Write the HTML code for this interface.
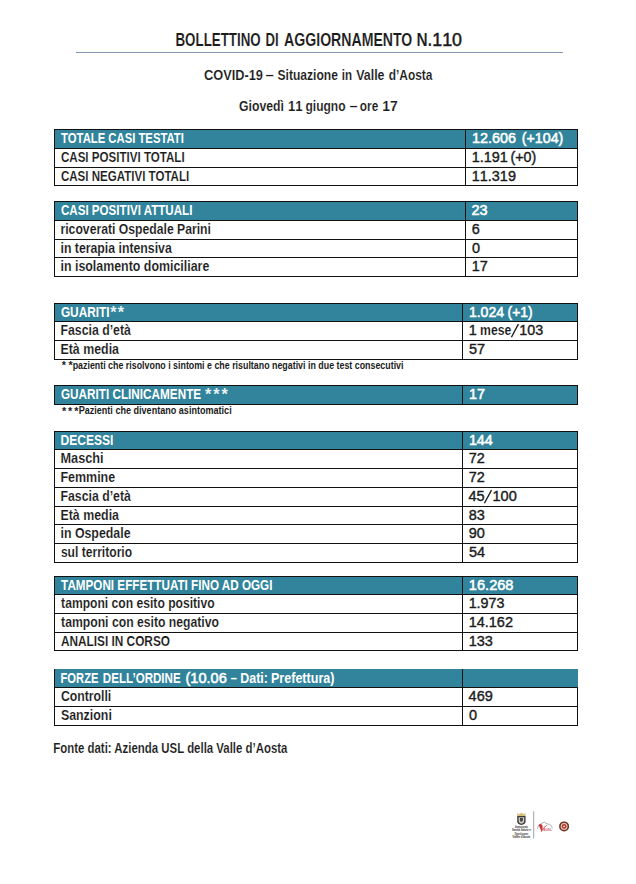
<!DOCTYPE html><html><head><meta charset="utf-8"><title>Bollettino</title><style>
html,body{margin:0;padding:0;background:#fff}
body{width:636px;height:884px;position:relative;overflow:hidden;font-family:"Liberation Sans",sans-serif;}
.t{position:absolute;white-space:pre;line-height:1;transform-origin:0 0;font-weight:700;display:block}
.b{position:absolute}
.hl{position:absolute;height:1px;background:#111}
.vl{position:absolute;width:1px;background:#111}
</style></head><body>
<div class="hl" style="left:76px;top:52px;width:487px;background:#8497b0"></div>
<div class="b" style="left:54px;top:129px;width:524px;height:19px;background:#31849b"></div>
<div class="hl" style="left:54px;top:129px;width:524px"></div>
<div class="hl" style="left:54px;top:148px;width:524px"></div>
<div class="hl" style="left:54px;top:167px;width:524px"></div>
<div class="hl" style="left:54px;top:185px;width:524px"></div>
<div class="vl" style="left:54px;top:129px;height:57px"></div>
<div class="vl" style="left:465px;top:129px;height:57px"></div>
<div class="vl" style="left:577px;top:129px;height:57px"></div>
<div class="b" style="left:54px;top:201px;width:524px;height:19px;background:#31849b"></div>
<div class="hl" style="left:54px;top:201px;width:524px"></div>
<div class="hl" style="left:54px;top:220px;width:524px"></div>
<div class="hl" style="left:54px;top:239px;width:524px"></div>
<div class="hl" style="left:54px;top:257px;width:524px"></div>
<div class="hl" style="left:54px;top:276px;width:524px"></div>
<div class="vl" style="left:54px;top:201px;height:76px"></div>
<div class="vl" style="left:465px;top:201px;height:76px"></div>
<div class="vl" style="left:577px;top:201px;height:76px"></div>
<div class="b" style="left:54px;top:303px;width:524px;height:18px;background:#31849b"></div>
<div class="hl" style="left:54px;top:303px;width:524px"></div>
<div class="hl" style="left:54px;top:321px;width:524px"></div>
<div class="hl" style="left:54px;top:340px;width:524px"></div>
<div class="hl" style="left:54px;top:359px;width:524px"></div>
<div class="vl" style="left:54px;top:303px;height:57px"></div>
<div class="vl" style="left:462px;top:303px;height:57px"></div>
<div class="vl" style="left:577px;top:303px;height:57px"></div>
<div class="b" style="left:54px;top:385px;width:524px;height:19px;background:#31849b"></div>
<div class="hl" style="left:54px;top:385px;width:524px"></div>
<div class="hl" style="left:54px;top:404px;width:524px"></div>
<div class="vl" style="left:54px;top:385px;height:20px"></div>
<div class="vl" style="left:462px;top:385px;height:20px"></div>
<div class="vl" style="left:577px;top:385px;height:20px"></div>
<div class="b" style="left:54px;top:431px;width:524px;height:18px;background:#31849b"></div>
<div class="hl" style="left:54px;top:431px;width:524px"></div>
<div class="hl" style="left:54px;top:449px;width:524px"></div>
<div class="hl" style="left:54px;top:468px;width:524px"></div>
<div class="hl" style="left:54px;top:487px;width:524px"></div>
<div class="hl" style="left:54px;top:506px;width:524px"></div>
<div class="hl" style="left:54px;top:524px;width:524px"></div>
<div class="hl" style="left:54px;top:543px;width:524px"></div>
<div class="hl" style="left:54px;top:562px;width:524px"></div>
<div class="vl" style="left:54px;top:431px;height:132px"></div>
<div class="vl" style="left:462px;top:431px;height:132px"></div>
<div class="vl" style="left:577px;top:431px;height:132px"></div>
<div class="b" style="left:54px;top:576px;width:524px;height:18px;background:#31849b"></div>
<div class="hl" style="left:54px;top:576px;width:524px"></div>
<div class="hl" style="left:54px;top:594px;width:524px"></div>
<div class="hl" style="left:54px;top:613px;width:524px"></div>
<div class="hl" style="left:54px;top:632px;width:524px"></div>
<div class="hl" style="left:54px;top:650px;width:524px"></div>
<div class="vl" style="left:54px;top:576px;height:75px"></div>
<div class="vl" style="left:462px;top:576px;height:75px"></div>
<div class="vl" style="left:577px;top:576px;height:75px"></div>
<div class="b" style="left:54px;top:669px;width:524px;height:18px;background:#31849b"></div>
<div class="hl" style="left:54px;top:687px;width:524px"></div>
<div class="hl" style="left:54px;top:706px;width:524px"></div>
<div class="hl" style="left:54px;top:725px;width:524px"></div>
<div class="vl" style="left:54px;top:669px;height:57px"></div>
<div class="vl" style="left:462px;top:669px;height:57px"></div>
<div class="vl" style="left:577px;top:687px;height:39px"></div>
<svg style="position:absolute;left:0;top:0" width="636" height="884" viewBox="0 0 636 884" font-family="Liberation Sans, sans-serif" font-weight="700">
<text transform="translate(175.46 46.00) scale(0.7507 1)" font-size="17.80" fill="#1c1c1c" stroke="#fff" stroke-width="0.12">BOLLETTINO</text>
<text transform="translate(265.47 46.00) scale(0.7410 1)" font-size="17.80" fill="#1c1c1c" stroke="#fff" stroke-width="0.12">DI</text>
<text transform="translate(284.10 46.00) scale(0.7931 1)" font-size="17.80" fill="#1c1c1c" stroke="#fff" stroke-width="0.12">AGGIORNAMENTO</text>
<text transform="translate(416.52 46.00) scale(0.8656 1)" font-size="17.80" fill="#1c1c1c" stroke="#fff" stroke-width="0.12">N.</text>
<text transform="translate(432.30 46.00) scale(1.0018 1)" font-size="17.80" fill="#1c1c1c" font-weight="400" stroke="#1c1c1c" stroke-width="0.50" style="font-kerning:none">110</text>
<text transform="translate(204.07 80.00) scale(0.8639 1)" font-size="14.80" fill="#1c1c1c" stroke="#fff" stroke-width="0.12">COVID-19</text>
<text transform="translate(265.50 80.00) scale(1.0069 1)" font-size="14.80" fill="#1c1c1c" stroke="#fff" stroke-width="0.12">–</text>
<text transform="translate(277.49 80.00) scale(0.8164 1)" font-size="14.80" fill="#1c1c1c" stroke="#fff" stroke-width="0.12">Situazione</text>
<text transform="translate(341.82 80.00) scale(0.7822 1)" font-size="14.80" fill="#1c1c1c" stroke="#fff" stroke-width="0.12">in</text>
<text transform="translate(356.19 80.00) scale(0.8394 1)" font-size="14.80" fill="#1c1c1c" stroke="#fff" stroke-width="0.12">Valle</text>
<text transform="translate(388.70 80.00) scale(0.8056 1)" font-size="14.80" fill="#1c1c1c" stroke="#fff" stroke-width="0.12">d’Aosta</text>
<text transform="translate(239.09 111.00) scale(0.8264 1)" font-size="14.80" fill="#1c1c1c" stroke="#fff" stroke-width="0.12">Giovedì</text>
<text transform="translate(287.92 111.00) scale(0.8800 1)" font-size="14.80" fill="#1c1c1c" stroke="#fff" stroke-width="0.12" style="font-kerning:none">11</text>
<text transform="translate(305.49 111.00) scale(0.8124 1)" font-size="14.80" fill="#1c1c1c" stroke="#fff" stroke-width="0.12">giugno</text>
<text transform="translate(349.51 111.00) scale(0.9793 1)" font-size="14.80" fill="#1c1c1c" stroke="#fff" stroke-width="0.12">–</text>
<text transform="translate(359.80 111.00) scale(0.8000 1)" font-size="14.80" fill="#1c1c1c" stroke="#fff" stroke-width="0.12">ore</text>
<text transform="translate(382.36 111.00) scale(0.9424 1)" font-size="14.80" fill="#1c1c1c" stroke="#fff" stroke-width="0.12" style="font-kerning:none">17</text>
<text transform="translate(61.11 143.00) scale(0.7536 1)" font-size="15.00" fill="#fff">TOTALE CASI TESTATI</text>
<text transform="translate(471.98 143.00) scale(0.9587 1)" font-size="15.00" fill="#fff" font-weight="400" stroke="#fff" stroke-width="0.55" style="font-kerning:none">12.606</text>
<text transform="translate(521.83 143.00) scale(0.9474 1)" font-size="15.00" fill="#fff" font-weight="400" stroke="#fff" stroke-width="0.55" style="font-kerning:none">(+104)</text>
<text transform="translate(60.91 162.00) scale(0.7723 1)" font-size="15.00" fill="#1c1c1c" stroke="#fff" stroke-width="0.12">CASI POSITIVI TOTALI</text>
<text transform="translate(471.74 162.00) scale(0.9639 1)" font-size="15.00" fill="#1c1c1c" font-weight="400" stroke="#1c1c1c" stroke-width="0.40" style="font-kerning:none">1.191</text>
<text transform="translate(510.39 162.00) scale(0.9515 1)" font-size="15.00" fill="#1c1c1c" font-weight="400" stroke="#1c1c1c" stroke-width="0.40" style="font-kerning:none">(+0)</text>
<text transform="translate(60.91 181.00) scale(0.7703 1)" font-size="15.00" fill="#1c1c1c" stroke="#fff" stroke-width="0.12">CASI NEGATIVI TOTALI</text>
<text transform="translate(471.74 181.00) scale(0.9640 1)" font-size="15.00" fill="#1c1c1c" font-weight="400" stroke="#1c1c1c" stroke-width="0.40" style="font-kerning:none">11.319</text>
<text transform="translate(60.91 215.00) scale(0.7739 1)" font-size="15.00" fill="#fff">CASI POSITIVI ATTUALI</text>
<text transform="translate(471.42 215.00) scale(0.9650 1)" font-size="15.00" fill="#fff" font-weight="400" stroke="#fff" stroke-width="0.55" style="font-kerning:none">23</text>
<text transform="translate(60.49 234.00) scale(0.8142 1)" font-size="15.00" fill="#1c1c1c" stroke="#fff" stroke-width="0.12">ricoverati Ospedale Parini</text>
<text transform="translate(471.82 234.00) scale(0.9650 1)" font-size="15.00" fill="#1c1c1c" font-weight="400" stroke="#1c1c1c" stroke-width="0.40" style="font-kerning:none">6</text>
<text transform="translate(60.48 253.00) scale(0.8193 1)" font-size="15.00" fill="#1c1c1c" stroke="#fff" stroke-width="0.12">in terapia intensiva</text>
<text transform="translate(472.06 253.00) scale(0.9650 1)" font-size="15.00" fill="#1c1c1c" font-weight="400" stroke="#1c1c1c" stroke-width="0.40" style="font-kerning:none">0</text>
<text transform="translate(60.47 271.00) scale(0.8275 1)" font-size="15.00" fill="#1c1c1c" stroke="#fff" stroke-width="0.12">in isolamento domiciliare</text>
<text transform="translate(471.74 271.00) scale(0.9650 1)" font-size="15.00" fill="#1c1c1c" font-weight="400" stroke="#1c1c1c" stroke-width="0.40" style="font-kerning:none">17</text>
<text transform="translate(60.90 317.00) scale(0.7900 1)" font-size="15.00" fill="#fff">GUARITI</text>
<text transform="translate(468.90 317.00) scale(0.9361 1)" font-size="15.00" fill="#fff" font-weight="400" stroke="#fff" stroke-width="0.55" style="font-kerning:none">1.024</text>
<text transform="translate(507.54 317.00) scale(0.9231 1)" font-size="15.00" fill="#fff" font-weight="400" stroke="#fff" stroke-width="0.55" style="font-kerning:none">(+1)</text>
<text transform="translate(60.48 335.00) scale(0.8200 1)" font-size="15.00" fill="#1c1c1c" stroke="#fff" stroke-width="0.12">Fascia d’età</text>
<text transform="translate(468.84 335.00) scale(0.9650 1)" font-size="15.00" fill="#1c1c1c" font-weight="400" stroke="#1c1c1c" stroke-width="0.40" style="font-kerning:none">1</text>
<text transform="translate(480.09 335.00) scale(0.8136 1)" font-size="15.00" fill="#1c1c1c" stroke="#fff" stroke-width="0.12">mese</text>
<text transform="translate(519.25 335.00) scale(0.9532 1)" font-size="15.00" fill="#1c1c1c" font-weight="400" stroke="#1c1c1c" stroke-width="0.40" style="font-kerning:none">103</text>
<text transform="translate(60.47 354.00) scale(0.8257 1)" font-size="15.00" fill="#1c1c1c" stroke="#fff" stroke-width="0.12">Età media</text>
<text transform="translate(468.96 354.00) scale(0.9650 1)" font-size="15.00" fill="#1c1c1c" font-weight="400" stroke="#1c1c1c" stroke-width="0.40" style="font-kerning:none">57</text>
<text transform="translate(60.91 399.00) scale(0.7831 1)" font-size="15.00" fill="#fff">GUARITI CLINICAMENTE</text>
<text transform="translate(468.88 399.00) scale(0.9650 1)" font-size="15.00" fill="#fff" font-weight="400" stroke="#fff" stroke-width="0.55" style="font-kerning:none">17</text>
<text transform="translate(60.50 445.00) scale(0.8047 1)" font-size="15.00" fill="#fff">DECESSI</text>
<text transform="translate(468.89 445.00) scale(0.9526 1)" font-size="15.00" fill="#fff" font-weight="400" stroke="#fff" stroke-width="0.55" style="font-kerning:none">144</text>
<text transform="translate(60.45 463.00) scale(0.8492 1)" font-size="15.00" fill="#1c1c1c" stroke="#fff" stroke-width="0.12">Maschi</text>
<text transform="translate(468.72 463.00) scale(0.9650 1)" font-size="15.00" fill="#1c1c1c" font-weight="400" stroke="#1c1c1c" stroke-width="0.40" style="font-kerning:none">72</text>
<text transform="translate(60.47 482.00) scale(0.8311 1)" font-size="15.00" fill="#1c1c1c" stroke="#fff" stroke-width="0.12">Femmine</text>
<text transform="translate(468.72 482.00) scale(0.9650 1)" font-size="15.00" fill="#1c1c1c" font-weight="400" stroke="#1c1c1c" stroke-width="0.40" style="font-kerning:none">72</text>
<text transform="translate(60.48 501.00) scale(0.8200 1)" font-size="15.00" fill="#1c1c1c" stroke="#fff" stroke-width="0.12">Fascia d’età</text>
<text transform="translate(468.40 501.00) scale(0.9650 1)" font-size="15.00" fill="#1c1c1c" font-weight="400" stroke="#1c1c1c" stroke-width="0.40" style="font-kerning:none">45</text>
<text transform="translate(492.43 501.00) scale(0.9726 1)" font-size="15.00" fill="#1c1c1c" font-weight="400" stroke="#1c1c1c" stroke-width="0.40" style="font-kerning:none">100</text>
<text transform="translate(60.47 520.00) scale(0.8257 1)" font-size="15.00" fill="#1c1c1c" stroke="#fff" stroke-width="0.12">Età media</text>
<text transform="translate(468.72 520.00) scale(0.9650 1)" font-size="15.00" fill="#1c1c1c" font-weight="400" stroke="#1c1c1c" stroke-width="0.40" style="font-kerning:none">83</text>
<text transform="translate(60.48 538.00) scale(0.8240 1)" font-size="15.00" fill="#1c1c1c" stroke="#fff" stroke-width="0.12">in Ospedale</text>
<text transform="translate(468.72 538.00) scale(0.9650 1)" font-size="15.00" fill="#1c1c1c" font-weight="400" stroke="#1c1c1c" stroke-width="0.40" style="font-kerning:none">90</text>
<text transform="translate(60.90 557.00) scale(0.8069 1)" font-size="15.00" fill="#1c1c1c" stroke="#fff" stroke-width="0.12">sul territorio</text>
<text transform="translate(468.96 557.00) scale(0.9650 1)" font-size="15.00" fill="#1c1c1c" font-weight="400" stroke="#1c1c1c" stroke-width="0.40" style="font-kerning:none">54</text>
<text transform="translate(61.11 590.00) scale(0.7793 1)" font-size="15.00" fill="#fff">TAMPONI EFFETTUATI FINO AD OGGI</text>
<text transform="translate(468.87 590.00) scale(0.9721 1)" font-size="15.00" fill="#fff" font-weight="400" stroke="#fff" stroke-width="0.55" style="font-kerning:none">16.268</text>
<text transform="translate(61.10 608.00) scale(0.8090 1)" font-size="15.00" fill="#1c1c1c" stroke="#fff" stroke-width="0.12">tamponi con esito positivo</text>
<text transform="translate(468.64 608.00) scale(0.9556 1)" font-size="15.00" fill="#1c1c1c" font-weight="400" stroke="#1c1c1c" stroke-width="0.40" style="font-kerning:none">1.973</text>
<text transform="translate(61.10 627.00) scale(0.8140 1)" font-size="15.00" fill="#1c1c1c" stroke="#fff" stroke-width="0.12">tamponi con esito negativo</text>
<text transform="translate(468.63 627.00) scale(0.9685 1)" font-size="15.00" fill="#1c1c1c" font-weight="400" stroke="#1c1c1c" stroke-width="0.40" style="font-kerning:none">14.162</text>
<text transform="translate(60.91 646.00) scale(0.7891 1)" font-size="15.00" fill="#1c1c1c" stroke="#fff" stroke-width="0.12">ANALISI IN CORSO</text>
<text transform="translate(468.63 646.00) scale(0.9660 1)" font-size="15.00" fill="#1c1c1c" font-weight="400" stroke="#1c1c1c" stroke-width="0.40" style="font-kerning:none">133</text>
<text transform="translate(60.55 683.00) scale(0.7452 1)" font-size="15.00" fill="#fff">FORZE</text>
<text transform="translate(102.83 683.00) scale(0.7728 1)" font-size="15.00" fill="#fff">DELL’ORDINE</text>
<text transform="translate(185.51 683.00) scale(0.9701 1)" font-size="15.00" fill="#fff" font-weight="400" stroke="#fff" stroke-width="0.55" style="font-kerning:none">(10.06</text>
<text transform="translate(230.73 683.00) scale(0.7333 1)" font-size="15.00" fill="#fff">–</text>
<text transform="translate(240.27 683.00) scale(0.8290 1)" font-size="15.00" fill="#fff">Dati:</text>
<text transform="translate(270.96 683.00) scale(0.8377 1)" font-size="15.00" fill="#fff">Prefettura)</text>
<text transform="translate(60.89 701.00) scale(0.8183 1)" font-size="15.00" fill="#1c1c1c" stroke="#fff" stroke-width="0.12">Controlli</text>
<text transform="translate(468.60 701.00) scale(0.9673 1)" font-size="15.00" fill="#1c1c1c" font-weight="400" stroke="#1c1c1c" stroke-width="0.40" style="font-kerning:none">469</text>
<text transform="translate(60.89 720.00) scale(0.8266 1)" font-size="15.00" fill="#1c1c1c" stroke="#fff" stroke-width="0.12">Sanzioni</text>
<text transform="translate(468.96 720.00) scale(0.9650 1)" font-size="15.00" fill="#1c1c1c" font-weight="400" stroke="#1c1c1c" stroke-width="0.40" style="font-kerning:none">0</text>
<text transform="translate(72.66 368.80) scale(0.8525 1)" font-size="10.40" fill="#1c1c1c">pazienti che risolvono i sintomi e che risultano negativi in due test consecutivi</text>
<text transform="translate(78.65 413.50) scale(0.8713 1)" font-size="10.40" fill="#1c1c1c">Pazienti che diventano asintomatici</text>
<text transform="translate(53.23 752.50) scale(0.7719 1)" font-size="14.80" fill="#1c1c1c" stroke="#fff" stroke-width="0.12">Fonte dati: Azienda USL della Valle d’Aosta</text>
<text x="110.25" y="317.98" font-size="16.15" fill="#e6f1f4">*</text>
<text x="117.65" y="317.98" font-size="16.15" fill="#e6f1f4">*</text>
<text x="204.95" y="400.48" font-size="16.15" fill="#e6f1f4">*</text>
<text x="213.35" y="400.48" font-size="16.15" fill="#e6f1f4">*</text>
<text x="221.45" y="400.48" font-size="16.15" fill="#e6f1f4">*</text>
<text x="61.80" y="369.28" font-size="10.77" fill="#1c1c1c">*</text>
<text x="68.60" y="369.28" font-size="10.77" fill="#1c1c1c">*</text>
<text x="62.00" y="414.68" font-size="10.77" fill="#1c1c1c">*</text>
<text x="68.10" y="414.68" font-size="10.77" fill="#1c1c1c">*</text>
<text x="74.20" y="414.68" font-size="10.77" fill="#1c1c1c">*</text>
</svg>
<svg style="position:absolute;left:508.9px;top:322.0px" width="14" height="18" viewBox="0 0 14 18"><line x1="2.40" y1="15.20" x2="9.40" y2="2.10" stroke="#1c1c1c" stroke-width="1.35"/></svg>
<svg style="position:absolute;left:481.9px;top:488.0px" width="14" height="18" viewBox="0 0 14 18"><line x1="2.40" y1="15.20" x2="9.50" y2="2.10" stroke="#1c1c1c" stroke-width="1.35"/></svg>
<svg style="position:absolute;left:505px;top:800px" width="80" height="50" viewBox="505 800 80 50">
<path d="M517.3 815.9 L517.1 813.1 L518.9 814.3 L521.4 812.7 L523.9 814.3 L525.7 813.1 L525.5 815.9 Z" fill="#d6bf7a"/>
<path d="M517.2 816 H525.6 V821.2 Q525.6 824.4 521.4 825 Q517.2 824.4 517.2 821.2 Z" fill="#3f3d3b"/>
<path d="M518.6 817.2 H524.2 V820.9 Q524.2 823 521.4 823.7 Q518.6 823 518.6 820.9 Z" fill="#d2cfcb"/>
<path d="M519.9 818.1 q1.5 -.9 3 0 v2.7 q-1.5 1.7 -3 0z" fill="#4a4643"/>
<g font-family="Liberation Sans, sans-serif" font-weight="700" font-size="3.3" fill="#5e5e5e" stroke="#5e5e5e" stroke-width="0.12" text-anchor="middle">
<text x="521.4" y="828.2" textLength="13" lengthAdjust="spacingAndGlyphs">Assessorato</text>
<text x="521.4" y="831.4" textLength="18.6" lengthAdjust="spacingAndGlyphs">Sanità Salute e</text>
<text x="521.4" y="834.6" textLength="13.4" lengthAdjust="spacingAndGlyphs">Région Autonome</text>
<text x="521.4" y="837.8" textLength="17.6" lengthAdjust="spacingAndGlyphs">Vallée d’Aoste</text>
</g>
<line x1="533.7" y1="811.3" x2="533.7" y2="838.4" stroke="#7d7d7d" stroke-width="0.7"/>
<path d="M537.4 828.8 Q537.8 824.6 541.2 823.6 L544.2 822.2 L547.2 824 Q551.8 823.8 552.2 828.4" fill="none" stroke="#9c9c9c" stroke-width="0.8"/>
<path d="M538.6 825 Q541.5 822.8 542.6 826 Q543 829.6 541.6 831.8 Q540.3 828.6 538.6 825Z" fill="#d0343a"/>
<path d="M541.4 831.6 Q543.6 827 546.8 825.4" fill="none" stroke="#d0343a" stroke-width="0.8"/>
<text x="547.6" y="831.4" font-family="Liberation Sans, sans-serif" font-weight="700" font-size="3.2" fill="#d65a5e" text-anchor="middle" textLength="8.6" lengthAdjust="spacingAndGlyphs">AUSL</text>
<circle cx="564.1" cy="826.4" r="5" fill="#76321f"/>
<circle cx="564.1" cy="826.4" r="3.4" fill="#e6d3c6"/>
<circle cx="564.1" cy="826.4" r="2.4" fill="#b5362d"/>
<circle cx="564.1" cy="826.4" r="0.9" fill="#f1e6dd"/>
</svg>

</body></html>
